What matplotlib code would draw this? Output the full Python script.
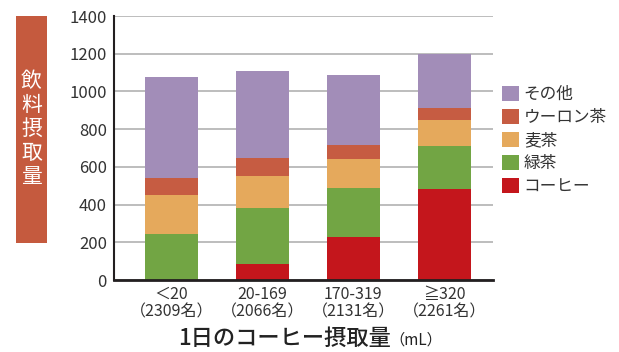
import numpy as np
import matplotlib
matplotlib.use("Agg")
import matplotlib.pyplot as plt
from matplotlib.patches import Rectangle, Patch

# ── Data ──────────────────────────────────────────────────────────────────────
categories = ["＜20\n（2309名）", "20-169\n（2066名）", "170-319\n（2131名）", "≧320\n（2261名）"]
series_names = ["コーヒー", "緑茶", "麦茶", "ウーロン茶", "その他"]
coffee = [0, 85, 228, 483]
green_tea = [244, 297, 260, 228]
barley_tea = [207, 169, 154, 137]
oolong_tea = [90, 96, 74, 64]
other = [535, 461, 371, 286]
y_ticks = [0, 200, 400, 600, 800, 1000, 1200, 1400]

# ── Style ─────────────────────────────────────────────────────────────────────
colors = ["#C4161C", "#72A544", "#E5A95C", "#C65C42", "#A28DB8"]
plt.rcParams["font.family"] = ["Noto Sans CJK JP", "DejaVu Sans"]
text_color = "#333333"

fig = plt.figure(figsize=(6.19, 3.52), dpi=100)
ax = fig.add_axes([0.184, 0.2045, 0.612, 0.75])

x = np.arange(len(categories))
bottom = np.zeros(len(categories))
for vals, col in zip([coffee, green_tea, barley_tea, oolong_tea, other], colors):
    ax.bar(x, vals, width=0.58, bottom=bottom, color=col, zorder=3)
    bottom += np.array(vals)

ax.set_xlim(-0.632, 3.533)
ax.set_ylim(0, 1400)
ax.set_yticks(y_ticks)
ax.set_yticklabels([str(v) for v in y_ticks], fontsize=12, color=text_color)
ax.set_xticks(x)
ax.set_xticklabels(categories, fontsize=11.5, color=text_color, linespacing=1.05)
ax.tick_params(axis="both", length=0)
ax.tick_params(axis="y", pad=5)
ax.tick_params(axis="x", pad=4)

ax.grid(axis="y", color="#BDBDBD", linewidth=1.4, zorder=0)
ax.spines[["top", "right"]].set_visible(False)
ax.spines["left"].set_color("#231F20")
ax.spines["left"].set_linewidth(1.5)
ax.spines["bottom"].set_color("#231F20")
ax.spines["bottom"].set_linewidth(2)
ax.spines["bottom"].set_zorder(4)

# y label box
fig.patches.append(Rectangle((0.0258, 0.3097), 0.0501, 0.645, transform=fig.transFigure,
                             facecolor="#C55A3E", edgecolor="none"))
fig.text(0.0509, 0.6335, "\n".join("飲料摂取量"), color="white", fontsize=15,
         ha="center", va="center", linespacing=1.12)

# x label
fig.text(391 / 619, 1 - 338 / 352, "1日のコーヒー摂取量", fontsize=16, fontweight="medium",
         color="#222222", ha="right", va="center")
fig.text(389 / 619, 1 - 340 / 352, "（mL）", fontsize=11, color="#222222",
         ha="left", va="center")

# legend
handles = [Patch(facecolor=c, edgecolor="none") for c in colors][::-1]
fig.legend(handles, series_names[::-1], loc="center left", bbox_to_anchor=(0.811, 0.601),
           frameon=False, fontsize=12, borderpad=0, borderaxespad=0,
           handlelength=1.0, handleheight=1.0, handletextpad=0.3, labelspacing=0.35,
           labelcolor=text_color)

fig.savefig("out.png", dpi=100)
